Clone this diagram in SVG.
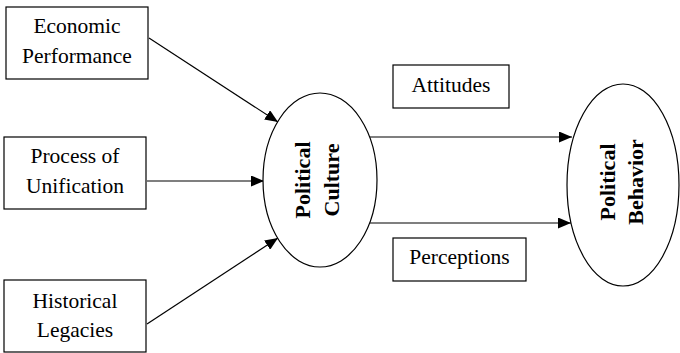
<svg xmlns="http://www.w3.org/2000/svg" width="680" height="353" viewBox="0 0 680 353">
<style>
.box{fill:#fff;stroke:#000;stroke-width:1.2}
.ell{fill:#fff;stroke:#000;stroke-width:1.2}
.t{font-family:"Liberation Serif","Times New Roman",serif;font-size:21.5px;fill:#000;text-anchor:middle}
.b{font-family:"Liberation Serif","Times New Roman",serif;font-size:22px;font-weight:bold;fill:#000;text-anchor:middle}
.c{stroke:#000;stroke-width:1.2;fill:none;marker-end:url(#ah)}
</style>
<defs>
<marker id="ah" markerUnits="userSpaceOnUse" markerWidth="13" markerHeight="11" refX="13" refY="5.5" orient="auto">
<path d="M0,0 L13,5.5 L0,11 z" fill="#000"/>
</marker>
</defs>
<rect width="680" height="353" fill="#fff"/>
<g id="connectors">
<line class="c" x1="149" y1="38" x2="278" y2="122"/>
<line class="c" x1="147" y1="181" x2="264" y2="181"/>
<line class="c" x1="147" y1="324" x2="278" y2="238"/>
<line class="c" x1="370" y1="137" x2="572" y2="137"/>
<line class="c" x1="370" y1="223" x2="571" y2="223"/>
</g>
<g id="economic">
<rect class="box" x="6" y="7" width="142" height="72"/>
<text class="t" x="77" y="33">Economic</text>
<text class="t" x="77" y="63">Performance</text>
</g>
<g id="process">
<rect class="box" x="4" y="137" width="142" height="72"/>
<text class="t" x="75" y="163">Process of</text>
<text class="t" x="75" y="193">Unification</text>
</g>
<g id="historical">
<rect class="box" x="4" y="280" width="142" height="72"/>
<text class="t" x="75" y="308">Historical</text>
<text class="t" x="75" y="337">Legacies</text>
</g>
<g id="culture">
<ellipse class="ell" cx="320" cy="180" rx="57" ry="87"/>
<text class="b" transform="translate(310,180) rotate(-90)">Political</text>
<text class="b" transform="translate(339,180) rotate(-90)">Culture</text>
</g>
<g id="attitudes">
<rect class="box" x="393" y="65" width="116" height="43"/>
<text class="t" x="451" y="92">Attitudes</text>
</g>
<g id="perceptions">
<rect class="box" x="393" y="238" width="133" height="43"/>
<text class="t" x="459.5" y="264">Perceptions</text>
</g>
<g id="behavior">
<ellipse class="ell" cx="623" cy="185" rx="56" ry="101"/>
<text class="b" transform="translate(615,182) rotate(-90)">Political</text>
<text class="b" transform="translate(643,182) rotate(-90)">Behavior</text>
</g>
</svg>
